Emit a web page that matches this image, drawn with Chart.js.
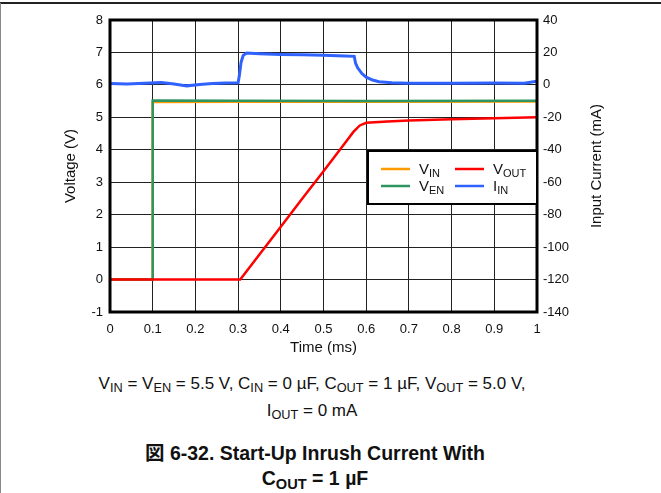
<!DOCTYPE html>
<html>
<head>
<meta charset="utf-8">
<script src="https://cdn.jsdelivr.net/npm/chart.js@4.4.1/dist/chart.umd.min.js"></script>
<style>
  html, body { margin: 0; padding: 0; background: #fff; }
  body { width: 661px; height: 493px; position: relative; overflow: hidden;
         font-family: "Liberation Sans", Arial, "Noto Sans CJK JP", sans-serif; color: #111; }
  .frame-top { position: absolute; left: 0; top: 2px; width: 661px; height: 2px; background: #222; }
  .frame-left { position: absolute; left: 0; top: 3px; width: 1px; height: 490px; background: #888; }
  .chart-box { position: absolute; left: 0; top: 0; width: 661px; height: 365px; }
  .caption { position: absolute; left: 0; top: 370px; width: 624px; text-align: center; font-size: 17px; line-height: 27px; }
  .title { position: absolute; left: 0; top: 441px; width: 630px; text-align: center; font-size: 19.5px; font-weight: bold; line-height: 25px; }
  sub { font-size: 0.75em; vertical-align: -0.25em; line-height: 0; }
</style>
</head>
<body>
<div class="frame-top"></div>
<div class="frame-left"></div>
<div class="chart-box"><canvas id="inrushChart" width="661" height="365"></canvas></div>
<div class="caption">V<sub>IN</sub> = V<sub>EN</sub> = 5.5 V, C<sub>IN</sub> = 0 µF, C<sub>OUT</sub> = 1 µF, V<sub>OUT</sub> = 5.0 V,<br>I<sub>OUT</sub> = 0 mA</div>
<div class="title">図 6-32. Start-Up Inrush Current With<br>C<sub>OUT</sub> = 1 µF</div>
<script>
// Time axis (ms) and tick labels
const timeTicks = [0, 0.1, 0.2, 0.3, 0.4, 0.5, 0.6, 0.7, 0.8, 0.9, 1];
const voltageTicks = [-1, 0, 1, 2, 3, 4, 5, 6, 7, 8];
const currentTicks = [-140, -120, -100, -80, -60, -40, -20, 0, 20, 40];

// V_IN (V)
const vinTime = [0, 0.1, 0.1, 0.3, 0.6, 1.0];
const vinValues = [0, 0, 5.47, 5.48, 5.48, 5.49];

// V_EN (V)
const venTime = [0, 0.1, 0.1, 0.3, 0.6, 1.0];
const venValues = [0, 0, 5.52, 5.51, 5.5, 5.51];

// V_OUT (V)
const voutTime = [0, 0.1, 0.2, 0.305, 0.35, 0.4, 0.45, 0.5, 0.55, 0.57, 0.585, 0.6, 0.65, 0.7, 0.8, 0.9, 1.0];
const voutValues = [0, 0, 0, 0, 0.77, 1.63, 2.49, 3.34, 4.2, 4.55, 4.75, 4.83, 4.87, 4.9, 4.94, 4.97, 5.0];

// I_IN (mA)
const iinTime = [0, 0.04, 0.08, 0.12, 0.15, 0.18, 0.21, 0.24, 0.27, 0.3, 0.303, 0.307, 0.312, 0.32, 0.35, 0.4, 0.45, 0.5, 0.55, 0.572, 0.575, 0.58, 0.59, 0.6, 0.615, 0.63, 0.66, 0.7, 0.8, 0.9, 0.97, 1.0];
const iinValues = [0.8, 0.6, 1.0, 1.4, 0.6, -0.6, 0.3, 0.8, 1.2, 1.3, 6, 14, 18.2, 19.6, 19.2, 18.8, 18.6, 18.2, 17.8, 17.6, 13.5, 10.5, 7, 4.8, 3, 2, 1.3, 1.0, 1.0, 1.1, 1.0, 2.2];

const toPoints = (xs, ys) => xs.map((x, i) => ({ x: x, y: ys[i] }));

const fontFamily = '"Liberation Sans", Arial, sans-serif';

// Legend with subscripts, drawn inside the plot
const legendEntries = [
    { color: '#ff9a00', main: 'V', sub: 'IN', col: 0, row: 0 },
    { color: '#ff0000', main: 'V', sub: 'OUT', col: 1, row: 0 },
    { color: '#2e9460', main: 'V', sub: 'EN', col: 0, row: 1 },
    { color: '#2f62ff', main: 'I', sub: 'IN', col: 1, row: 1 }
];

const framePlugin = {
    id: 'frame',
    afterDraw(chart) {
        const { ctx, chartArea: a } = chart;
        ctx.save();
        ctx.strokeStyle = '#000';
        ctx.lineWidth = 3;
        ctx.strokeRect(a.left, a.top, a.right - a.left, a.bottom - a.top);

        // right axis title reads bottom to top, like the left one
        ctx.save();
        ctx.translate(597, (a.top + a.bottom) / 2);
        ctx.rotate(-Math.PI / 2);
        ctx.fillStyle = '#111';
        ctx.font = '15px ' + fontFamily;
        ctx.textAlign = 'center';
        ctx.textBaseline = 'middle';
        ctx.fillText('Input Current (mA)', 0, 0);
        ctx.restore();

        // legend box
        const bx = 368, by = 151, bw = 169, bh = 53;
        ctx.fillStyle = '#fff';
        ctx.fillRect(bx, by, bw, bh);
        ctx.lineWidth = 2;
        ctx.strokeRect(bx, by, bw, bh);

        legendEntries.forEach(e => {
            const x0 = bx + 13 + e.col * 74;
            const y0 = by + 18 + e.row * 17;
            ctx.strokeStyle = e.color;
            ctx.lineWidth = 2.5;
            ctx.beginPath();
            ctx.moveTo(x0, y0);
            ctx.lineTo(x0 + 29, y0);
            ctx.stroke();
            ctx.fillStyle = '#111';
            ctx.textBaseline = 'alphabetic';
            ctx.font = '15px ' + fontFamily;
            const tx = x0 + 38;
            ctx.fillText(e.main, tx, y0 + 5);
            const w = ctx.measureText(e.main).width;
            ctx.font = '11px ' + fontFamily;
            ctx.fillText(e.sub, tx + w, y0 + 8);
        });
        ctx.restore();
    }
};

const ctx = document.getElementById('inrushChart').getContext('2d');
new Chart(ctx, {
    type: 'scatter',
    data: {
        datasets: [
            { label: 'VOUT', data: toPoints(voutTime, voutValues), yAxisID: 'y', borderColor: '#ff0000', borderWidth: 2.5 },
            { label: 'IIN', data: toPoints(iinTime, iinValues), yAxisID: 'y1', borderColor: '#2f62ff', borderWidth: 3 },
            { label: 'VEN', data: toPoints(venTime, venValues), yAxisID: 'y', borderColor: '#2e9460', borderWidth: 2.5 },
            { label: 'VIN', data: toPoints(vinTime, vinValues), yAxisID: 'y', borderColor: '#ff9a00', borderWidth: 2.5 }
        ].map(d => Object.assign(d, { showLine: true, pointRadius: 0, fill: false, tension: 0 }))
    },
    options: {
        responsive: false,
        animation: false,
        layout: { padding: { top: 20, left: 0, right: 0, bottom: 0 } },
        plugins: { legend: { display: false }, tooltip: { enabled: false } },
        scales: {
            x: {
                type: 'linear', min: 0, max: 1,
                afterBuildTicks: s => { s.ticks = timeTicks.map(v => ({ value: v })); },
                afterFit: s => { s.height = 53; },
                grid: { color: '#222', lineWidth: 1, drawTicks: false },
                border: { display: false },
                ticks: { color: '#111', font: { size: 13, family: fontFamily }, padding: 10, maxRotation: 0,
                         callback: v => String(v) },
                title: { display: true, text: 'Time (ms)', color: '#111', font: { size: 15, family: fontFamily }, padding: { top: 0, bottom: 8 } }
            },
            y: {
                position: 'left', min: -1, max: 8,
                afterBuildTicks: s => { s.ticks = voltageTicks.map(v => ({ value: v })); },
                afterFit: s => { s.width = 110; },
                grid: { color: '#222', lineWidth: 1, drawTicks: false },
                border: { display: false },
                ticks: { color: '#111', font: { size: 13, family: fontFamily }, padding: 7 },
                title: { display: true, text: 'Voltage (V)', color: '#111', font: { size: 15, family: fontFamily }, padding: { top: 62, bottom: 0 } }
            },
            y1: {
                position: 'right', min: -140, max: 40,
                afterBuildTicks: s => { s.ticks = currentTicks.map(v => ({ value: v })); },
                afterFit: s => { s.width = 124; },
                grid: { drawOnChartArea: false, drawTicks: false },
                border: { display: false },
                ticks: { color: '#111', font: { size: 13, family: fontFamily }, padding: 6 },
                title: { display: false }
            }
        }
    },
    plugins: [framePlugin]
});
</script>
</body>
</html>
